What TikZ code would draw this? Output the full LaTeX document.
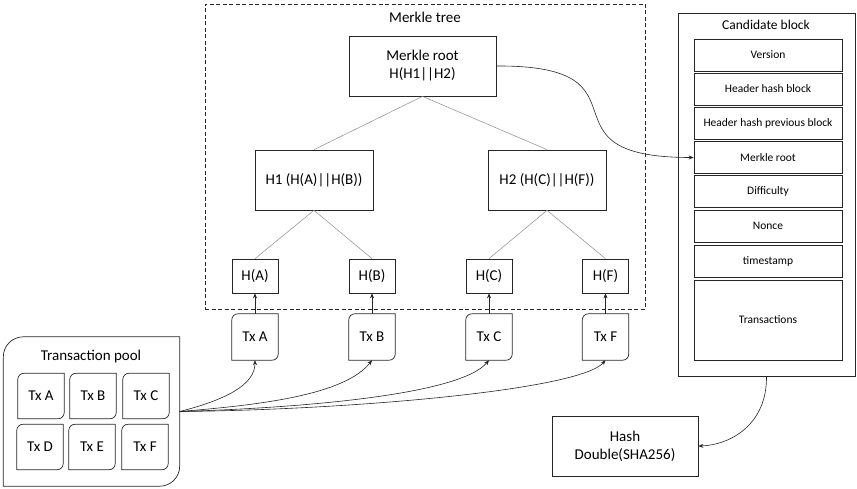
\documentclass[tikz,border=0pt]{standalone}
\usepackage{fontspec}
\setmainfont{Carlito}
\usetikzlibrary{arrows.meta,calc}
\tikzset{
  boxline/.style={draw=black!85, line width=0.7pt},
  sqbox/.style={boxline, rectangle, inner sep=0pt, font=\fontsize{15}{18}\selectfont, align=center},
  fieldbox/.style={boxline, rectangle, inner sep=0pt, minimum width=148pt, minimum height=32pt, font=\fontsize{11.5}{13}\selectfont},
  txbox/.style={rectangle, inner sep=0pt, minimum width=46pt, minimum height=46pt, font=\fontsize{15}{18}\selectfont},
  pooltx/.style={rectangle, inner sep=0pt, minimum width=46pt, minimum height=45pt, font=\fontsize{15}{18}\selectfont},
  treeline/.style={draw=black!45, line width=0.5pt},
  arr/.style={draw=black!85, line width=0.6pt, -{Stealth[length=5pt,width=4pt]}},
  title/.style={font=\fontsize{15}{18}\selectfont, inner sep=0pt},
}
\newcommand\diagframe[2]{%
  \draw[boxline] ($(#1.north west)+(0pt,-#2)$) arc[start angle=180,end angle=90,radius=#2]
    -- (#1.north east) -- ($(#1.south east)+(0pt,#2)$)
    arc[start angle=0,end angle=-90,radius=#2] -- (#1.south west) -- cycle;}
\begin{document}
\begin{tikzpicture}[x=1pt,y=-1pt]
\useasboundingbox (0,0) rectangle (857,489);
% Merkle tree container
\node[draw=black!85, dashed, line width=0.7pt, dash pattern=on 4pt off 2.5pt, minimum width=440pt, minimum height=305pt, inner sep=0pt] (mt) at (425,156.5) {};
\node[title] (mttitle) at (425,17) {Merkle tree};
\node[sqbox, minimum width=147pt, minimum height=60pt] (root) at (422.5,66) {Merkle root\\H(H1||H2)};
\node[sqbox, minimum width=118pt, minimum height=60pt] (h1) at (314,180) {H1 (H(A)||H(B))};
\node[sqbox, minimum width=118pt, minimum height=60pt] (h2) at (547,180) {H2 (H(C)||H(F))};
\node[sqbox, minimum width=46pt, minimum height=34pt] (ha) at (255,276) {H(A)};
\node[sqbox, minimum width=46pt, minimum height=34pt] (hb) at (372,276) {H(B)};
\node[sqbox, minimum width=46pt, minimum height=34pt] (hc) at (489,276) {H(C)};
\node[sqbox, minimum width=46pt, minimum height=34pt] (hf) at (605.5,276) {H(F)};
\draw[treeline] (root.south) -- (h1.north);
\draw[treeline] (root.south) -- (h2.north);
\draw[treeline] (h1.south) -- (ha.north);
\draw[treeline] (h1.south) -- (hb.north);
\draw[treeline] (h2.south) -- (hc.north);
\draw[treeline] (h2.south) -- (hf.north);
% transactions under tree
\node[txbox] (ta) at (255,337) {Tx A};
\node[txbox] (tb) at (372,337) {Tx B};
\node[txbox] (tc) at (489,337) {Tx C};
\node[txbox] (tf) at (605.5,337) {Tx F};
\diagframe{ta}{6pt}\diagframe{tb}{6pt}\diagframe{tc}{6pt}\diagframe{tf}{6pt}
\draw[arr] (ta.north) -- (ha.south);
\draw[arr] (tb.north) -- (hb.south);
\draw[arr] (tc.north) -- (hc.south);
\draw[arr] (tf.north) -- (hf.south);
% Transaction pool
\node[rectangle, inner sep=0pt, minimum width=176pt, minimum height=149pt] (pool) at (91.5,411.5) {};
\diagframe{pool}{20pt}
\node[title] (pooltitle) at (91,357) {Transaction pool};
\node[pooltx] (pa) at (41,396) {Tx A};
\node[pooltx] (pb) at (93,396) {Tx B};
\node[pooltx] (pc) at (146,396) {Tx C};
\node[pooltx] (pd) at (40,447) {Tx D};
\node[pooltx] (pe) at (92,447) {Tx E};
\node[pooltx] (pf) at (145,447) {Tx F};
\diagframe{pa}{6pt}\diagframe{pb}{6pt}\diagframe{pc}{6pt}
\diagframe{pd}{6pt}\diagframe{pe}{6pt}\diagframe{pf}{6pt}
\draw[arr] (pool.east) .. controls (225,400) and (255,385) .. (ta.south);
\draw[arr] (pool.east) .. controls (260,405) and (345,395) .. (tb.south);
\draw[arr] (pool.east) .. controls (300,408) and (460,395) .. (tc.south);
\draw[arr] (pool.east) .. controls (350,410) and (580,390) .. (tf.south);
% Candidate block
\node[boxline, rectangle, inner sep=0pt, minimum width=177pt, minimum height=363pt] (cand) at (766.5,194.5) {};
\node[title, font=\fontsize{13.5}{16}\selectfont] (candtitle) at (766,25) {Candidate block};
\node[fieldbox] (fver) at (768,55) {Version};
\node[fieldbox] (fhhb) at (768,89) {Header hash block};
\node[fieldbox] (fhhp) at (768,123) {Header hash previous block};
\node[fieldbox] (fmr) at (768,157.5) {Merkle root};
\node[fieldbox] (fdif) at (768,191.5) {Difficulty};
\node[fieldbox] (fnon) at (768,226) {Nonce};
\node[fieldbox] (fts) at (768,261) {timestamp};
\node[fieldbox, minimum height=80pt] (ftx) at (768,320) {Transactions};
% Hash
\node[sqbox, minimum width=146pt, minimum height=60pt] (hash) at (625,446) {Hash\\Double(SHA256)};
% connectors
\draw[arr] (root.east) .. controls (660,65) and (530,157.5) .. (fmr.west);
\draw[arr] (cand.south) .. controls (767,425) and (730,445) .. (hash.east);
\end{tikzpicture}
\end{document}
